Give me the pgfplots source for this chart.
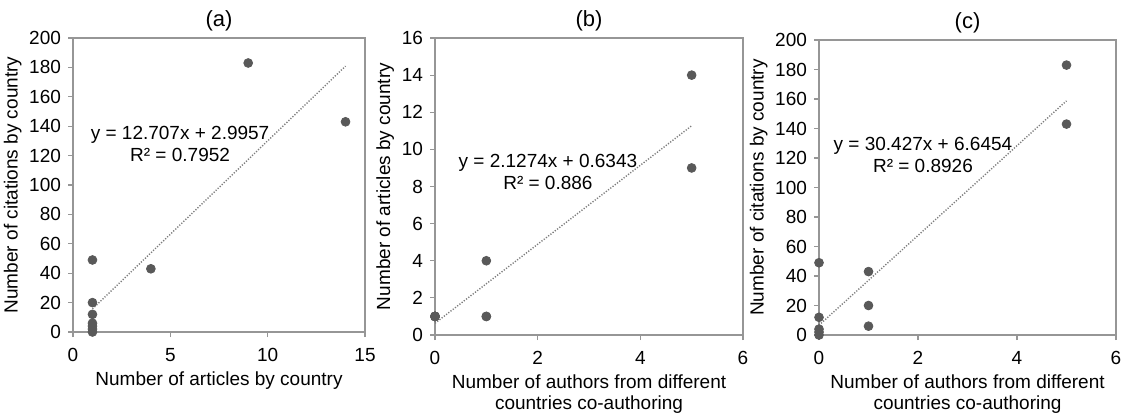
\documentclass[border=0pt]{standalone}
\usepackage{pgfplots}
\pgfplotsset{compat=1.18}
\usepackage{fontspec}
\setmainfont{Liberation Sans}

\definecolor{dotgray}{RGB}{89,89,89}
\definecolor{axgray}{RGB}{150,150,150}
\definecolor{trendgray}{RGB}{125,125,125}

\pgfplotsset{
  excelscatter/.style={
    scale only axis, clip=false,
    axis line style={axgray, line width=0.6pt},
    tick style={axgray, line width=0.6pt},
    tick align=outside, tick pos=left, major tick length=2.5pt,
    font=\fontsize{9.5}{11}\selectfont,
    /pgf/number format/assume math mode=true,
    title style={font=\fontsize{11}{13}\selectfont, yshift=-6pt},
    xticklabel style={yshift=-2pt},
    xlabel style={align=center, yshift=2pt, font=\fontsize{9.5}{10.5}\selectfont},
    ylabel style={yshift=-3pt},
  },
  pts/.style={only marks, mark=*, mark size=2.2pt, color=dotgray},
  trend/.style={trendgray, line width=0.7pt, dash pattern=on 0.6pt off 0.8pt},
}

\begin{document}
\begin{tikzpicture}
\useasboundingbox (0,0) rectangle (566.5pt,207pt);

% (a) citations vs articles
\begin{axis}[excelscatter,
  at={(36.5pt,41pt)}, anchor=south west,
  width=146pt, height=147pt,
  xmin=0, xmax=15, ymin=0, ymax=200,
  xtick={0,5,10,15}, ytick={0,20,...,200},
  title={(a)},
  xlabel={Number of articles by country},
  ylabel={Number of citations by country}]
  \addplot[pts] coordinates {
    (1,49) (1,12) (1,4) (1,2) (1,0)
    (1,20) (1,6) (4,43) (9,183) (14,143)
  };
  \addplot[trend] coordinates {(1,15.70) (14,180.89)};
  \node[align=center, font=\fontsize{9.5}{11}\selectfont] at (axis cs:5.5,128) {y = 12.707x + 2.9957\\R² = 0.7952};
\end{axis}

% (b) articles vs co-authors
\begin{axis}[excelscatter,
  at={(217.5pt,39.5pt)}, anchor=south west,
  width=154pt, height=148.5pt,
  xmin=0, xmax=6, ymin=0, ymax=16,
  xtick={0,2,4,6}, ytick={0,2,...,16},
  title={(b)},
  xlabel={Number of authors from different\\countries co-authoring},
  ylabel={Number of articles by country}]
  \addplot[pts] coordinates {
    (0,1) (0,1) (0,1) (0,1) (0,1)
    (1,4) (1,1) (1,1) (5,14) (5,9)
  };
  \addplot[trend] coordinates {(0,0.6343) (5,11.271)};
  \node[align=center, font=\fontsize{9.5}{11}\selectfont] at (axis cs:2.2,8.8) {y = 2.1274x + 0.6343\\R² = 0.886};
\end{axis}

% (c) citations vs co-authors
\begin{axis}[excelscatter,
  at={(409.5pt,39.5pt)}, anchor=south west,
  width=148.5pt, height=147.5pt,
  xmin=0, xmax=6, ymin=0, ymax=200,
  xtick={0,2,4,6}, ytick={0,20,...,200},
  title={(c)},
  xlabel={Number of authors from different\\countries co-authoring},
  ylabel={Number of citations by country}]
  \addplot[pts] coordinates {
    (0,49) (0,12) (0,4) (0,2) (0,0)
    (1,43) (1,20) (1,6) (5,183) (5,143)
  };
  \addplot[trend] coordinates {(0,6.6454) (5,158.78)};
  \node[align=center, font=\fontsize{9.5}{11}\selectfont] at (axis cs:2.1,122) {y = 30.427x + 6.6454\\R² = 0.8926};
\end{axis}
\end{tikzpicture}
\end{document}
